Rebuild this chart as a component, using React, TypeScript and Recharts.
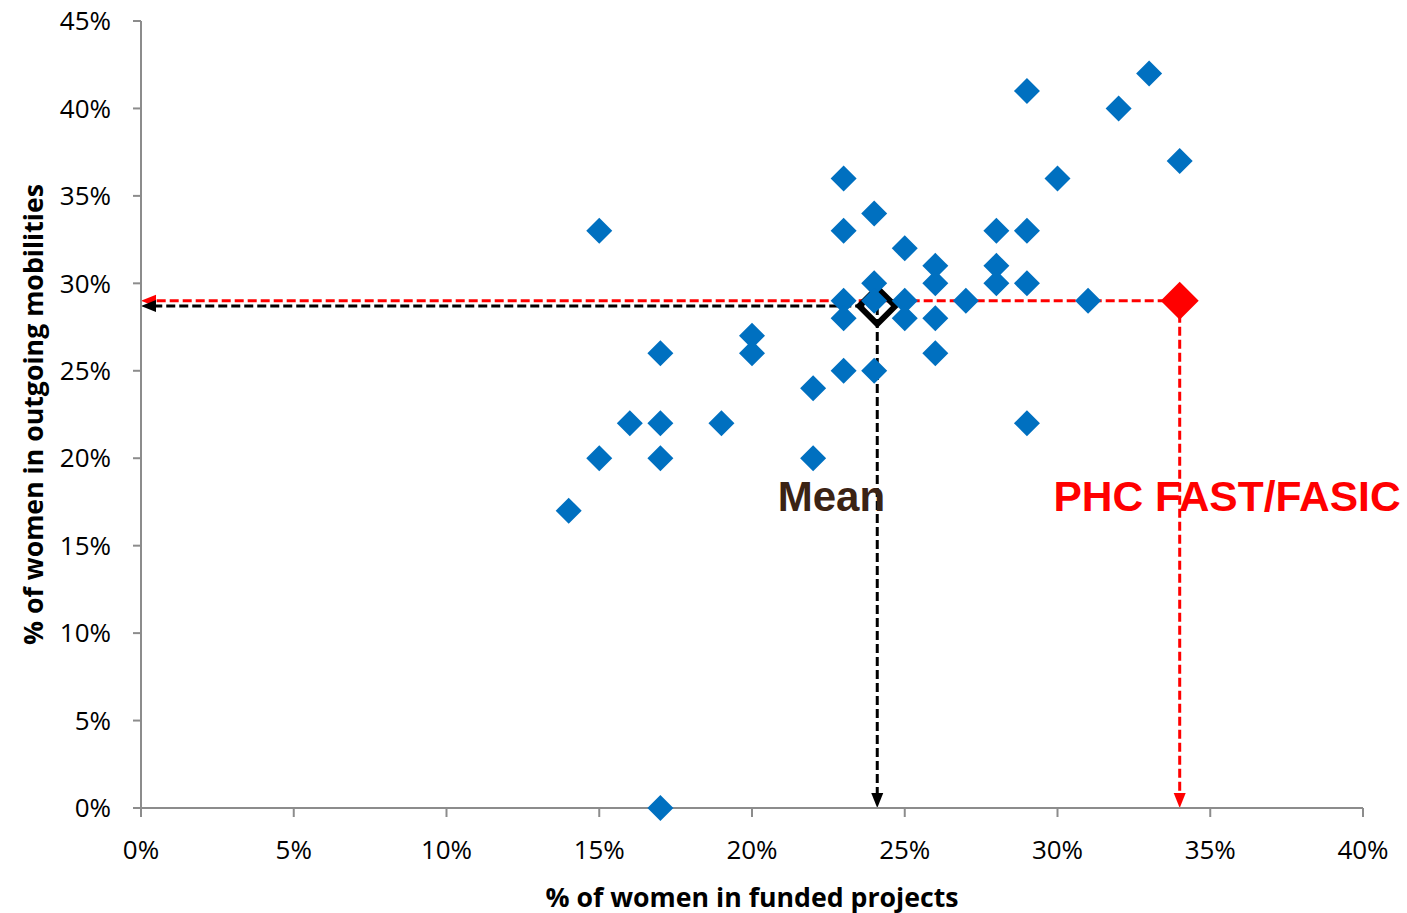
import React from 'react';
import { ScatterChart, Scatter, XAxis, YAxis, ReferenceLine, ReferenceDot } from 'recharts';

// % of women in funded projects (x) and in outgoing mobilities (y), one entry per programme
const womenInProjects = [14, 15, 15, 16, 17, 17, 17, 17, 19, 20, 20, 22, 22, 23, 23, 23, 23, 23, 24, 24, 24, 24, 25, 25, 25, 26, 26, 26, 26, 27, 28, 28, 28, 29, 29, 29, 29, 30, 31, 32, 33, 34];
const womenInMobilities = [17, 33, 20, 22, 26, 22, 20, 0, 22, 27, 26, 24, 20, 36, 33, 29, 28, 25, 34, 30, 29, 25, 32, 29, 28, 31, 30, 28, 26, 29, 33, 31, 30, 41, 33, 30, 22, 36, 29, 40, 42, 37];

const meanPoint = { x: 24.1, y: 28.7 };
const phcPoint = { x: 34, y: 29 };

const xTicks = [0, 5, 10, 15, 20, 25, 30, 35, 40];
const yTicks = [0, 5, 10, 15, 20, 25, 30, 35, 40, 45];

const programmes = womenInProjects.map((x, i) => ({ x, y: womenInMobilities[i] }));

const BLUE = '#0070C0';
const RED = '#FF0000';
const AXIS = '#8c8c8c';
const TICK_FONT = '"Open Sans", sans-serif';

const diamond = (half: number, fill: string, stroke = 'none', strokeWidth = 0) => (props: any) => {
  const { cx, cy } = props;
  if (cx == null || cy == null) return <g />;
  const pts = `${cx},${cy - half} ${cx + half},${cy} ${cx},${cy + half} ${cx - half},${cy}`;
  return <polygon points={pts} fill={fill} stroke={stroke} strokeWidth={strokeWidth} strokeLinejoin="miter" />;
};

// dashed line with an arrow head at its end (x2, y2)
const arrowLine = (color: string) => (props: any) => {
  const { x1, y1, x2, y2 } = props;
  if ([x1, y1, x2, y2].some(v => v == null || isNaN(v))) return <g />;
  const dx = x2 - x1;
  const dy = y2 - y1;
  const len = Math.sqrt(dx * dx + dy * dy) || 1;
  const ux = dx / len;
  const uy = dy / len;
  const head = 15;
  const w = 6;
  const bx = x2 - ux * head;
  const by = y2 - uy * head;
  const pts = `${x2},${y2} ${bx - uy * w},${by + ux * w} ${bx + uy * w},${by - ux * w}`;
  return (
    <g>
      <line x1={x1} y1={y1} x2={bx} y2={by} stroke={color} strokeWidth={3} strokeDasharray="9 4" />
      <polygon points={pts} fill={color} />
    </g>
  );
};

const textLabel = (value: string, color: string, size: number) => (props: any) => {
  const { viewBox } = props;
  if (!viewBox) return null;
  return (
    <text
      x={viewBox.x}
      y={viewBox.y}
      textAnchor="middle"
      dominantBaseline="central"
      fill={color}
      fontFamily='"Liberation Sans", Arial, sans-serif'
      fontWeight="bold"
      fontSize={size}
    >
      {value}
    </text>
  );
};

const yTitle = (props: any) => {
  const { viewBox } = props;
  if (!viewBox) return null;
  const cy = viewBox.y + viewBox.height / 2;
  return (
    <text
      x={32}
      y={cy}
      transform={`rotate(-90, 32, ${cy})`}
      textAnchor="middle"
      dominantBaseline="central"
      fontFamily={TICK_FONT}
      fontWeight="bold"
      fontSize={26.7}
      fill="#000"
    >
      % of women in outgoing mobilities
    </text>
  );
};

export default function App() {
  return (
    <div style={{ position: 'absolute', left: 0, top: 0, background: '#fff' }}>
      <ScatterChart width={1407} height={913} margin={{ top: 21, right: 44, bottom: 0, left: 0 }}>
        <XAxis
          type="number"
          dataKey="x"
          domain={[0, 40]}
          ticks={xTicks}
          interval={0}
          tickFormatter={(v: number) => `${v}%`}
          stroke={AXIS}
          strokeWidth={2}
          tickSize={9}
          tickMargin={24}
          height={105}
          tick={{ fill: '#000', fontSize: 26, fontFamily: TICK_FONT }}
          label={{
            value: '% of women in funded projects',
            position: 'insideBottom',
            offset: 6,
            fill: '#000',
            fontSize: 26.7,
            fontWeight: 'bold',
            fontFamily: TICK_FONT,
          }}
        />
        <YAxis
          type="number"
          dataKey="y"
          domain={[0, 45]}
          ticks={yTicks}
          interval={0}
          tickFormatter={(v: number) => `${v}%`}
          stroke={AXIS}
          strokeWidth={2}
          tickSize={8}
          tickMargin={22}
          width={141}
          tick={{ fill: '#000', fontSize: 26, fontFamily: TICK_FONT }}
          label={{ content: yTitle }}
        />

        <Scatter name="Mean" data={[meanPoint]} shape={diamond(18, 'none', '#000', 6)} isAnimationActive={false} />
        <Scatter name="Programmes" data={programmes} shape={diamond(13, BLUE)} isAnimationActive={false} />

        <ReferenceLine segment={[{ x: phcPoint.x, y: phcPoint.y }, { x: 0, y: phcPoint.y }]} stroke={RED} shape={arrowLine(RED)} />
        <ReferenceLine segment={[{ x: phcPoint.x, y: phcPoint.y }, { x: phcPoint.x, y: 0 }]} stroke={RED} shape={arrowLine(RED)} />
        <ReferenceLine segment={[{ x: meanPoint.x, y: meanPoint.y }, { x: 0, y: meanPoint.y }]} stroke="#000" shape={arrowLine('#000')} />
        <ReferenceLine segment={[{ x: meanPoint.x, y: meanPoint.y }, { x: meanPoint.x, y: 0 }]} stroke="#000" shape={arrowLine('#000')} />

        <Scatter name="PHC FAST/FASIC" data={[phcPoint]} shape={diamond(19, RED)} isAnimationActive={false} />

        <ReferenceDot x={22.6} y={17.8} r={0} stroke="none" label={{ content: textLabel('Mean', '#3B2314', 42) }} />
        <ReferenceDot x={35.55} y={17.8} r={0} stroke="none" label={{ content: textLabel('PHC FAST/FASIC', RED, 42.5) }} />
      </ScatterChart>
    </div>
  );
}
